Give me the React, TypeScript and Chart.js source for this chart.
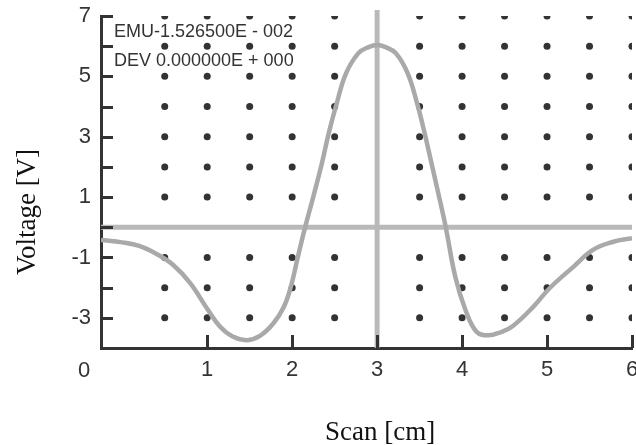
import React, { useEffect, useRef } from "react";
import { Chart, registerables } from "chart.js";

Chart.register(...registerables);

// ---- data ----
const xTickValues = [1, 2, 3, 4, 5, 6];
const xOriginLabel = "0";
const yTickValues = [-3, -1, 1, 3, 5, 7];
const yMinorTickValues = [-2, 0, 2, 4, 6];

const scanCm = [
  -0.25, 0.0, 0.2, 0.4, 0.6, 0.8, 1.0, 1.15, 1.3, 1.47, 1.62, 1.78, 1.9, 1.98, 2.07,
  2.15, 2.26, 2.35, 2.43, 2.525, 2.634, 2.78, 2.9, 3.0, 3.1, 3.22, 3.36, 3.47, 3.56,
  3.64, 3.72, 3.81, 3.92, 4.04, 4.17, 4.31, 4.45, 4.59, 4.84, 5.03, 5.31, 5.54, 5.78,
  6.0,
];
const voltage = [
  -0.42, -0.5, -0.62, -0.88, -1.25, -1.85, -2.7, -3.29, -3.62, -3.74, -3.6, -3.18,
  -2.65, -2.02, -0.95, -0.03, 1.13, 2.12, 3.11, 4.11, 5.1, 5.77, 5.97, 6.04, 5.97,
  5.77, 5.1, 4.11, 3.11, 2.12, 1.13, -0.03, -1.64, -2.74, -3.46, -3.58, -3.48, -3.29,
  -2.63, -2.02, -1.31, -0.75, -0.48, -0.36,
];

const dotColumnsCm = [0.5, 1, 1.5, 2, 2.5, 3.5, 4, 4.5, 5, 5.5, 6];
const dotRowsV = [7, 6, 5, 4, 3, 2, 1, -1, -2, -3];

const markerCm = 3;
const baselineV = 0;

const infoLines = ["EMU-1.526500E - 002", "DEV 0.000000E + 000"];
const xTitle = "Scan [cm]";
const yTitle = "Voltage [V]";

const INK = "#333333";
const SANS = '"Liberation Sans", Arial, Helvetica, sans-serif';
const SERIF = '"Liberation Serif", "Times New Roman", serif';

export default function App() {
  const ref = useRef<HTMLCanvasElement | null>(null);

  useEffect(() => {
    const canvas = ref.current;
    if (!canvas) return;

    const dots: { x: number; y: number }[] = [];
    for (const y of dotRowsV) for (const x of dotColumnsCm) dots.push({ x, y });
    const curve = scanCm.map((x, i) => ({ x, y: voltage[i] }));

    const decor = {
      id: "decor",
      afterDraw(chart: any) {
        const ctx = chart.ctx as CanvasRenderingContext2D;
        const xs = chart.scales.x;
        const ys = chart.scales.y;
        const area = chart.chartArea;
        ctx.save();
        ctx.strokeStyle = INK;
        ctx.lineWidth = 3;
        ctx.lineCap = "butt";
        // inward y ticks
        for (const v of [...yTickValues, ...yMinorTickValues]) {
          const py = Math.round(ys.getPixelForValue(v)) + 0.5;
          ctx.beginPath();
          ctx.moveTo(area.left, py);
          ctx.lineTo(area.left + 12, py);
          ctx.stroke();
        }
        // inward x ticks
        for (const v of xTickValues) {
          const px = Math.round(xs.getPixelForValue(v)) + 0.5;
          ctx.beginPath();
          ctx.moveTo(px, area.bottom);
          ctx.lineTo(px, area.bottom - 13);
          ctx.stroke();
        }
        // origin label
        ctx.fillStyle = INK;
        ctx.font = `22px ${SANS}`;
        ctx.textAlign = "center";
        ctx.textBaseline = "middle";
        ctx.fillText(xOriginLabel, area.left - 17, area.bottom + 23);

        // info text
        ctx.font = `18px ${SANS}`;
        ctx.textAlign = "left";
        ctx.textBaseline = "alphabetic";
        ctx.fillText(infoLines[0], area.left + 13, area.top + 21);
        ctx.fillText(infoLines[1], area.left + 13, area.top + 50);

        // axis titles
        ctx.fillStyle = "#111";
        ctx.font = `27px ${SERIF}`;
        ctx.textAlign = "center";
        ctx.textBaseline = "alphabetic";
        ctx.fillText(xTitle, xs.getPixelForValue(markerCm) + 3, 440);

        ctx.translate(35, 212);
        ctx.rotate(-Math.PI / 2);
        ctx.fillText(yTitle, 0, 0);
        ctx.restore();
      },
    };

    const chart = new Chart(canvas, {
      type: "scatter",
      data: {
        datasets: [
          {
            data: curve,
            showLine: true,
            borderColor: "#a9a9a9",
            borderWidth: 4.5,
            pointRadius: 0,
            tension: 0.4,
            order: 0,
          } as any,
          {
            data: [
              { x: -0.25, y: baselineV },
              { x: 6, y: baselineV },
            ],
            showLine: true,
            borderColor: "#b9b9b9",
            borderWidth: 5,
            pointRadius: 0,
            order: 1,
          },
          {
            data: [
              { x: markerCm, y: -4 },
              { x: markerCm, y: 7.2 },
            ],
            showLine: true,
            borderColor: "#b9b9b9",
            borderWidth: 5,
            pointRadius: 0,
            clip: false,
            order: 1,
          } as any,
          {
            data: dots,
            showLine: false,
            pointRadius: 3.5,
            pointBackgroundColor: INK,
            pointBorderWidth: 0,
            order: 2,
          },
        ],
      },
      options: {
        animation: false,
        responsive: false,
        devicePixelRatio: 1,
        layout: { padding: { top: 16, right: 4, bottom: 0, left: 0 } },
        plugins: {
          legend: { display: false },
          tooltip: { enabled: false },
          title: { display: false },
        },
        scales: {
          x: {
            type: "linear",
            min: -0.25,
            max: 6,
            afterBuildTicks: (s: any) => {
              s.ticks = xTickValues.map((v) => ({ value: v }));
            },
            afterFit: (s: any) => {
              s.height = 97;
              s.paddingLeft = 0;
              s.paddingRight = 0;
            },
            ticks: {
              color: INK,
              font: { family: SANS, size: 22 },
              padding: 9,
              maxRotation: 0,
              autoSkip: false,
              callback: (v: any) => String(v),
            },
            grid: { display: false, drawTicks: false },
            border: { display: true, color: INK, width: 3 },
          },
          y: {
            type: "linear",
            min: -4,
            max: 7,
            afterBuildTicks: (s: any) => {
              s.ticks = yTickValues.map((v) => ({ value: v }));
            },
            afterFit: (s: any) => {
              s.width = 101;
              s.paddingTop = 0;
              s.paddingBottom = 0;
            },
            ticks: {
              color: INK,
              font: { family: SANS, size: 22 },
              padding: 10,
              autoSkip: false,
              callback: (v: any) => String(v),
            },
            grid: { display: false, drawTicks: false },
            border: { display: true, color: INK, width: 3 },
          },
        },
      },
      plugins: [decor],
    });

    return () => chart.destroy();
  }, []);

  return (
    <div
      style={{
        position: "fixed",
        left: 0,
        top: 0,
        width: 636,
        height: 445,
        background: "#fff",
      }}
    >
      <canvas ref={ref} width={636} height={445} style={{ display: "block" }} />
    </div>
  );
}
